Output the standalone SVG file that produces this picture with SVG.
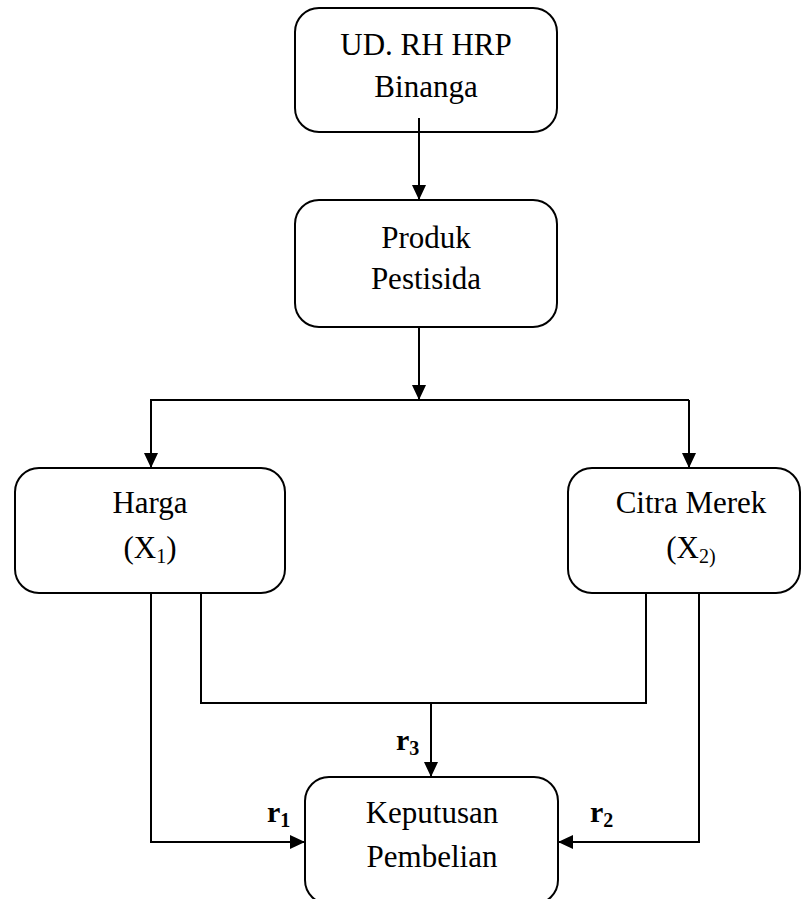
<svg xmlns="http://www.w3.org/2000/svg" width="802" height="899" viewBox="0 0 802 899">
<style>
.box{fill:#fff;stroke:#000;stroke-width:2}
.t{font-family:"Liberation Serif","Times New Roman",serif;font-size:31px;fill:#000;text-anchor:middle}
.r{font-family:"Liberation Serif","Times New Roman",serif;font-size:30px;font-weight:bold;fill:#000}
.c{fill:none;stroke:#000;stroke-width:2}
</style>
<defs>
<marker id="ah" markerUnits="userSpaceOnUse" markerWidth="15" markerHeight="14" refX="15" refY="7" orient="auto">
<path d="M0,0 L15,7 L0,14 z" fill="#000"/>
</marker>
</defs>
<rect width="802" height="899" fill="#fff"/>
<g id="n1">
<rect class="box" x="295" y="8" width="262" height="124" rx="24"/>
<text class="t" x="426" y="55">UD. RH HRP</text>
<text class="t" x="426" y="97">Binanga</text>
</g>
<g id="n2">
<rect class="box" x="295" y="200" width="262" height="127" rx="24"/>
<text class="t" x="426" y="248">Produk</text>
<text class="t" x="426" y="289">Pestisida</text>
</g>
<g id="n3">
<rect class="box" x="15" y="468" width="270" height="125" rx="24"/>
<text class="t" x="150" y="513">Harga</text>
<text class="t" x="150" y="558">(X<tspan font-size="20" dy="5">1</tspan><tspan dy="-5">)</tspan></text>
</g>
<g id="n4">
<rect class="box" x="568" y="468" width="232" height="125" rx="24"/>
<text class="t" x="691" y="513">Citra Merek</text>
<text class="t" x="691" y="558">(X<tspan font-size="20" dy="5">2)</tspan></text>
</g>
<g id="n5">
<rect class="box" x="305" y="777" width="253" height="127" rx="24"/>
<text class="t" x="432" y="823">Keputusan</text>
<text class="t" x="432" y="867">Pembelian</text>
</g>
<g id="connectors">
<path class="c" d="M419,118 V200" marker-end="url(#ah)"/>
<path class="c" d="M419,327 V400" marker-end="url(#ah)"/>
<path class="c" d="M151,468 V400 H689"/>
<path class="c" d="M151,400 V468" marker-end="url(#ah)"/>
<path class="c" d="M689,400 V468" marker-end="url(#ah)"/>
<path class="c" d="M151,593 V842 H305" marker-end="url(#ah)"/>
<path class="c" d="M699,593 V842 H558" marker-end="url(#ah)"/>
<path class="c" d="M201,593 V703 H646 V593"/>
<path class="c" d="M431,703 V777" marker-end="url(#ah)"/>
</g>
<g id="labels">
<text class="r" x="267" y="822">r<tspan font-size="20" dy="5">1</tspan></text>
<text class="r" x="590" y="822">r<tspan font-size="20" dy="5">2</tspan></text>
<text class="r" x="396" y="750">r<tspan font-size="20" dy="5">3</tspan></text>
</g>
</svg>
